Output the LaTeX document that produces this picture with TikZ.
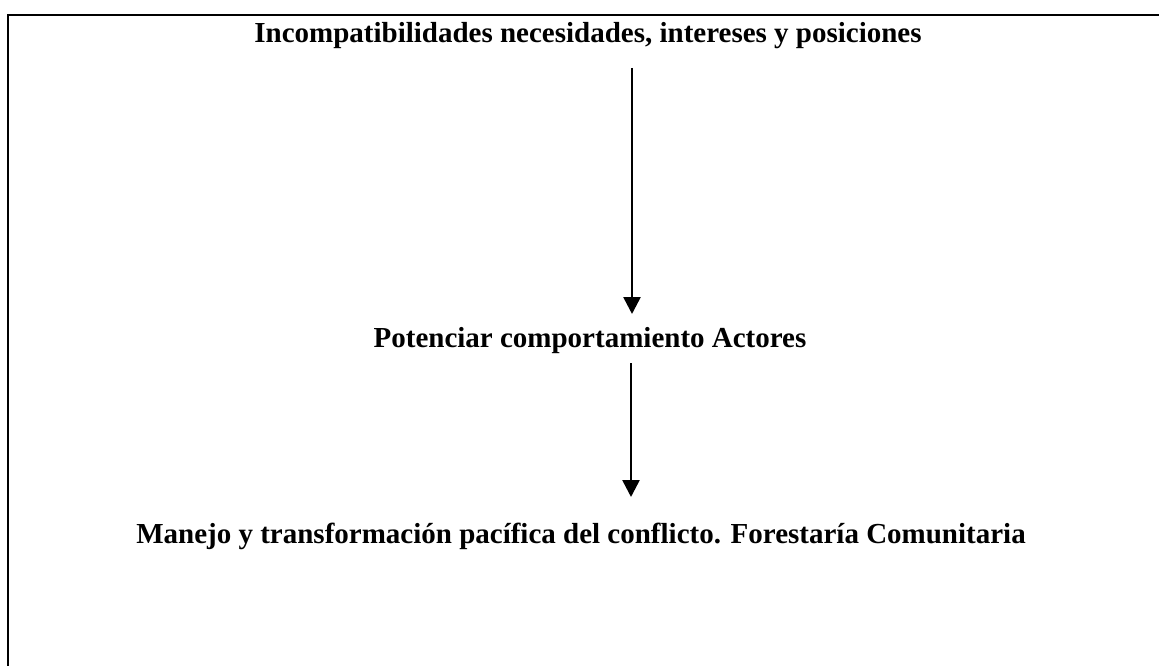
\documentclass[tikz,border=0pt]{standalone}
\usepackage{fontspec}
\setmainfont{Liberation Serif}
\usetikzlibrary{arrows.meta}
\tikzset{
  lbl/.style={inner sep=0pt, anchor=base, font=\fontsize{29}{34}\selectfont\bfseries},
  conn/.style={line width=2.6pt, -{Triangle[width=17pt,length=17pt]}},
  frame/.style={line width=2.4pt}
}
\begin{document}
\begin{tikzpicture}[x=1pt,y=-1pt]
\useasboundingbox (0,0) rectangle (1159,666);
\fill[white] (0,0) rectangle (1159,666);
\coordinate (fb) at (8,670);
\coordinate (fc) at (8,15);
\coordinate (fr) at (1163,15);
\draw[frame] (fb) -- (fc) -- (fr);
\node[lbl] (t1) at (588,43) {Incompatibilidades necesidades, intereses y posiciones};
\node[lbl] (t2) at (590,347) {Potenciar comportamiento Actores};
\node[lbl] (t3) at (581,543) {Manejo y transformación pacífica del conflicto. Forestaría Comunitaria};
\coordinate (a1s) at (632,68);
\coordinate (a1e) at (632,314);
\coordinate (a2s) at (631,363);
\coordinate (a2e) at (631,497);
\draw[conn] (a1s) -- (a1e);
\draw[conn] (a2s) -- (a2e);
\end{tikzpicture}
\end{document}
